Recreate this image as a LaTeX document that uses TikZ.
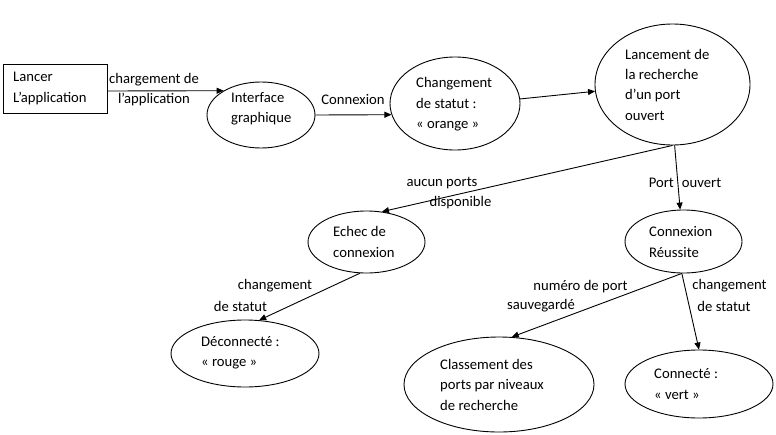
\documentclass[tikz,border=0pt]{standalone}
\usepackage{fontspec}
\setmainfont{Carlito}
\usetikzlibrary{shapes.geometric,arrows.meta}
\begin{document}
\begin{tikzpicture}[x=1pt,y=-1pt,
  font=\fontsize{14.67}{20.3}\selectfont,
  ell/.style={draw, ellipse, line width=0.9pt, inner sep=0pt},
  box/.style={draw, rectangle, line width=0.9pt, inner sep=0pt},
  txt/.style={anchor=west, align=left, inner sep=0pt},
  lbl/.style={inner sep=0pt, align=center},
  arr/.style={line width=0.9pt, -{Triangle[length=7pt,width=6pt]}}]
\useasboundingbox[fill=white] (0,0) rectangle (776,434);

% shapes
\node[box, minimum width=104pt, minimum height=49pt] (rect) at (55,88.5) {};
\node[ell, minimum width=108pt, minimum height=66pt] (iface) at (261,115) {};
\node[ell, minimum width=130pt, minimum height=93pt] (chg) at (455,103.5) {};
\node[ell, minimum width=155pt, minimum height=121pt] (lanc) at (672.5,84.5) {};
\node[ell, minimum width=117pt, minimum height=62pt] (echec) at (366.5,242) {};
\node[ell, minimum width=117pt, minimum height=63pt] (reussite) at (683.5,241.5) {};
\node[ell, minimum width=148pt, minimum height=67pt] (deco) at (245,353.5) {};
\node[ell, minimum width=190pt, minimum height=95pt] (classe) at (499,384.5) {};
\node[ell, minimum width=148pt, minimum height=68pt] (conn) at (699,384) {};

% texts inside shapes
\node[txt] (t-rect) at (13,88.5) {Lancer\\L’application};
\node[txt] (t-iface) at (231,108.5) {Interface\\graphique};
\node[txt] (t-chg) at (416,104.3) {Changement\\de statut :\\« orange »};
\node[txt] (t-lanc) at (625,84.75) {Lancement de\\la recherche\\d’un port\\ouvert};
\node[txt] (t-echec) at (333,242) {Echec de\\connexion};
\node[txt] (t-reussite) at (649,242) {Connexion\\Réussite};
\node[txt] (t-deco) at (201,353) {Déconnecté :\\« rouge »};
\node[txt] (t-classe) at (440,384.7) {Classement des\\ports par niveaux\\de recherche};
\node[txt] (t-conn) at (654,384) {Connecté :\\« vert »};

% connectors
\draw[arr] ([yshift=-2.5pt]rect.east) -- (iface.147);
\draw[arr] (iface.east) -- (chg.190);
\draw[arr] (chg.4) -- (lanc.185);
\draw[arr] (lanc.south) -- (echec.63);
\draw[arr] (lanc.-88) -- (reussite.96);
\draw[arr] (echec.-102) -- (deco.67);
\draw[arr] (reussite.-93) -- (classe.75);
\draw[arr] (reussite.-93) -- (conn.north);

% connector labels
\node[lbl] (l1) at (154,89.5) {chargement de\\l’application};
\node[lbl] (l2) at (353,100) {Connexion};
\node[lbl] (l3a) at (442,183) {aucun ports};
\node[lbl] (l3b) at (460.5,203) {disponible};
\node[lbl] (l4) at (685,183) {Port\hspace{0.55em}ouvert};
\node[lbl] (l5a) at (275,286) {changement};
\node[lbl] (l5b) at (240.5,306) {de statut};
\node[lbl] (l6a) at (580.5,287) {numéro de port};
\node[lbl] (l6b) at (541,306) {sauvegardé};
\node[lbl] (l7a) at (729.5,286) {changement};
\node[lbl] (l7b) at (724,306) {de statut};
\end{tikzpicture}
\end{document}
